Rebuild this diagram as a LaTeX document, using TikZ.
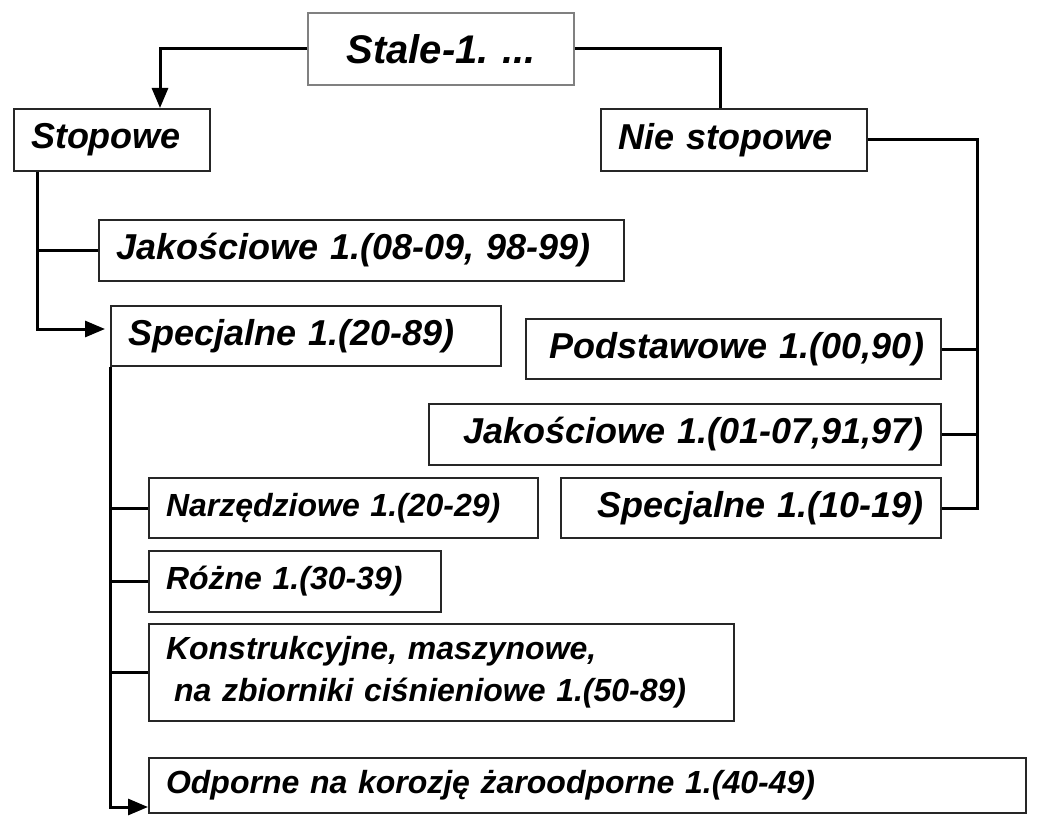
\documentclass[tikz,border=0pt]{standalone}
\usepackage{fontspec}
\setmainfont{Liberation Sans}
\usetikzlibrary{arrows.meta,calc}
\frenchspacing

\tikzset{
 box/.style={draw=black!85, line width=1pt, anchor=north west, inner xsep=8.5pt, inner ysep=0pt},
 big/.style={font=\fontsize{18}{21}\selectfont\bfseries\itshape},
 small/.style={font=\fontsize{16}{21}\selectfont\bfseries\itshape},
 conn/.style={line width=1.5pt},
 arr/.style={conn, -{Triangle[length=10pt,width=8pt]}}
}

\begin{document}
\begin{tikzpicture}[x=0.5pt,y=-0.5pt]
\useasboundingbox (0,0) rectangle (1042,818);
%%%%%boxes start here
\node[box, draw=black!50, text width=116pt, minimum height=36pt, align=center,
 font=\fontsize{20}{24}\selectfont\bfseries\itshape] (stale) at (307,12) {Stale-1. ...};
\node[box, big, text width=81pt, minimum height=31pt, align=left] (stopowe) at (13,108) {Stopowe};
\node[box, big, text width=116pt, minimum height=31pt, align=left] (niest) at (600,108) {Nie stopowe};

\node[box, big, text width=245.5pt, minimum height=30.5pt, align=left] (jak1) at (98,219) {Jakościowe 1.(08-09, 98-99)};
\node[box, big, text width=178pt, minimum height=30pt, align=left] (spec1) at (110,305) {Specjalne 1.(20-89)};

\node[box, big, text width=190.5pt, minimum height=30pt, align=right] (podst) at (525,318) {Podstawowe 1.(00,90)};
\node[box, big, text width=239pt, minimum height=30.5pt, align=right] (jak2) at (428,403) {Jakościowe 1.(01-07,91,97)};
\node[box, big, text width=173pt, minimum height=30pt, align=right] (spec2) at (560,477) {Specjalne 1.(10-19)};

\node[box, small, text width=177.5pt, minimum height=30pt, align=left] (narz) at (148,477) {Narzędziowe 1.(20-29)};
\node[box, small, text width=129pt, minimum height=30.5pt, align=left] (rozne) at (148,550) {Różne 1.(30-39)};
\node[box, small, text width=275.5pt, minimum height=48.5pt, align=left] (konst) at (148,623)
 {Konstrukcyjne, maszynowe,\\\hspace*{4pt}na zbiorniki ciśnieniowe 1.(50-89)};
\node[box, small, text width=421.5pt, minimum height=27.5pt, align=left] (odp) at (148,757) {Odporne na korozję żaroodporne 1.(40-49)};
%%%%%boxes end here

%%%%%connectors
\draw[arr] (stale.west) -| ($(stopowe.north west)+(147,0)$);
\draw[conn] (stale.east) -| ($(niest.north west)+(120,0)$);

\coordinate (ltrunk) at ($(stopowe.south west)+(24,0)$);
\draw[conn] (ltrunk) |- (jak1.west);
\draw[arr] (ltrunk) |- ($(spec1.west)+(-5,-7)$);

\coordinate (rtrunk) at ($(spec2.east)+(35,0)$);
\draw[conn] (niest.east) -| (rtrunk) -- (spec2.east);
\draw[conn] (podst.east) -- (podst.east -| rtrunk);
\draw[conn] (jak2.east) -- (jak2.east -| rtrunk);

\draw[conn] (spec1.south west) |- (narz.west);
\draw[conn] (spec1.south west) |- (rozne.west);
\draw[conn] (spec1.south west) |- (konst.west);
\draw[arr] (spec1.south west) |- ($(odp.south west)+(0,-7)$);
\end{tikzpicture}
\end{document}
